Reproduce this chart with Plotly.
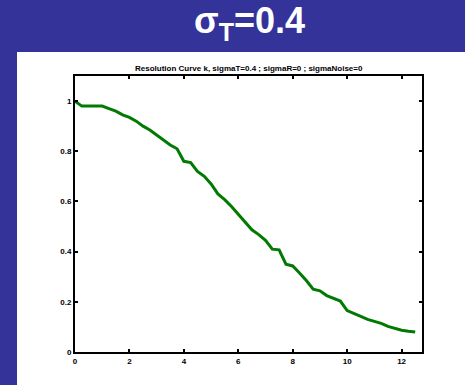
import plotly.graph_objects as go

x_vals = [0, 0.25, 0.5, 0.75, 1.0, 1.25, 1.5, 1.75, 2.0, 2.25, 2.5, 2.75, 3.0, 3.25, 3.5, 3.75,
          4.0, 4.25, 4.5, 4.75, 5.0, 5.25, 5.5, 5.75, 6.0, 6.25, 6.5, 6.75, 7.0, 7.25, 7.5, 7.75,
          8.0, 8.25, 8.5, 8.75, 9.0, 9.25, 9.5, 9.75, 10.0, 10.25, 10.5, 10.75, 11.0, 11.25, 11.5,
          11.75, 12.0, 12.25, 12.5]
k_vals = [1.0, 0.98, 0.98, 0.98, 0.98, 0.97, 0.96, 0.945, 0.935, 0.92, 0.90, 0.885, 0.865, 0.845,
          0.825, 0.81, 0.76, 0.755, 0.72, 0.70, 0.67, 0.63, 0.607, 0.58, 0.55, 0.52, 0.487, 0.468,
          0.445, 0.41, 0.407, 0.35, 0.343, 0.315, 0.285, 0.25, 0.244, 0.225, 0.215, 0.203, 0.165,
          0.155, 0.142, 0.13, 0.122, 0.114, 0.102, 0.094, 0.087, 0.083, 0.08]
x_ticks = [0, 2, 4, 6, 8, 10, 12]
y_ticks = [0, 0.2, 0.4, 0.6, 0.8, 1]
y_tick_text = ["0", "0.2", "0.4", "0.6", "0.8", "1"]

W, H = 465, 385
L, R, T, B = 75, 43, 76, 33
pw = W - L - R
ph = H - T - B

def px_x(p):
    return (p - L) / pw

def px_y(p):
    return (H - B - p) / ph

fig = go.Figure()
fig.add_trace(go.Scatter(x=x_vals, y=k_vals, mode="lines",
                         line=dict(color="rgb(0,122,0)", width=3), showlegend=False))

axis_common = dict(showgrid=False, zeroline=False, showline=True, linecolor="black", linewidth=2,
                   mirror="allticks", ticks="inside", ticklen=3, tickwidth=2, tickcolor="black",
                   tickfont=dict(family="Liberation Sans, Arial", size=8, color="black", weight="bold"))

fig.update_xaxes(range=[0, 12.75], tickvals=x_ticks, ticktext=[str(v) for v in x_ticks], **axis_common)
fig.update_yaxes(range=[0, 1.1], tickvals=y_ticks, ticktext=y_tick_text, **axis_common)

fig.add_shape(type="rect", xref="paper", yref="paper",
              x0=px_x(17), x1=px_x(W + 5), y0=px_y(H + 5), y1=px_y(52),
              fillcolor="white", line=dict(width=0), layer="below")

fig.add_annotation(text="<b>σ<sub>T</sub>=0.4</b>", xref="paper", yref="paper",
                   x=px_x(249), y=px_y(23), showarrow=False, xanchor="center", yanchor="middle",
                   font=dict(family="Liberation Sans, Arial", size=36, color="white"))
fig.add_annotation(text="<b>Resolution Curve k, sigmaT=0.4 ; sigmaR=0 ; sigmaNoise=0</b>",
                   xref="paper", yref="paper", x=px_x(249), y=px_y(68), showarrow=False,
                   xanchor="center", yanchor="middle",
                   font=dict(family="Liberation Sans, Arial", size=8, color="black"))

fig.update_layout(width=W, height=H, margin=dict(l=L, r=R, t=T, b=B),
                  paper_bgcolor="#333399", plot_bgcolor="white")

fig.write_html("out.html", config={"displayModeBar": False},
               post_script="document.body.style.margin='0';")
